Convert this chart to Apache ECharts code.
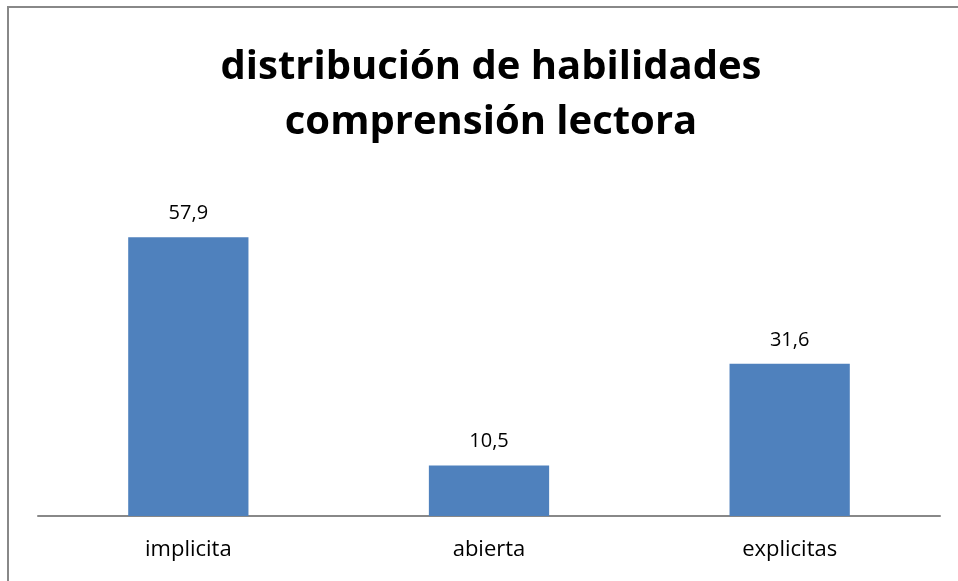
<!DOCTYPE html>
<html>
<head>
<meta charset="utf-8">
<script src="https://cdn.jsdelivr.net/npm/echarts@6/dist/echarts.min.js"></script>
<style>
  html, body { margin: 0; padding: 0; background: #fff; }
  #chart { width: 958px; height: 581px; }
</style>
</head>
<body>
<div id="chart"></div>
<script>
const categories = ["implicita", "abierta", "explicitas"];
const values = [57.9, 10.5, 31.6];
const titleLines = ["distribución de habilidades", "comprensión lectora"];

const chart = echarts.init(document.getElementById("chart"));
const option = {
  backgroundColor: "#fff",
  animation: false,
  title: {
    text: titleLines.join("\n"),
    left: 486,
    top: 35,
    textAlign: "center",
    textStyle: {
      fontFamily: "Open Sans",
      fontWeight: "bold",
      fontSize: 40,
      lineHeight: 55,
      color: "#000"
    }
  },
  graphic: [
    {
      type: "rect",
      shape: { x: 8, y: 7, width: 1000, height: 1000 },
      style: { fill: "none", stroke: "#888", lineWidth: 2 }
    }
  ],
  grid: { left: 38, right: 18, top: 179, bottom: 65 },
  xAxis: {
    type: "category",
    data: categories,
    axisTick: { show: false },
    axisLine: { lineStyle: { color: "#888", width: 2 } },
    axisLabel: {
      fontFamily: "Open Sans",
      fontSize: 22,
      color: "#000",
      margin: 23
    }
  },
  yAxis: {
    type: "value",
    min: 0,
    max: 70,
    show: false,
    splitLine: { show: false }
  },
  series: [
    {
      type: "bar",
      data: values,
      barWidth: "40%",
      itemStyle: { color: "#4F81BD" },
      label: {
        show: true,
        position: "top",
        distance: 14,
        fontFamily: "Open Sans",
        fontSize: 20,
        color: "#000",
        formatter: (p) => p.value.toFixed(1).replace(".", ",")
      }
    }
  ]
};
chart.setOption(option);
</script>
</body>
</html>
